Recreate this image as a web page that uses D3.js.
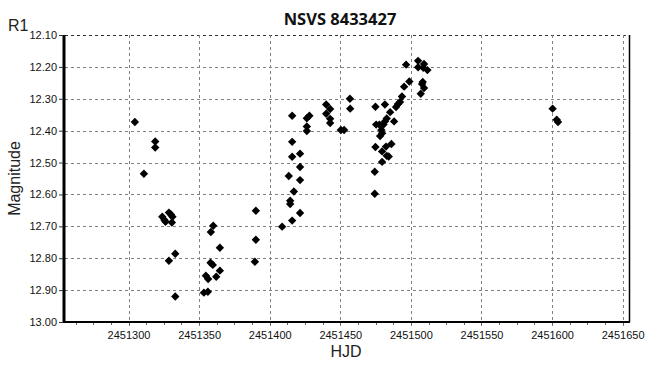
<!DOCTYPE html>
<html>
<head>
<meta charset="utf-8">
<script src="https://cdn.jsdelivr.net/npm/d3@7"></script>
<style>
  body { margin: 0; background: #fff; }
  svg { display: block; }
  .tick-lbl { font-family: "Liberation Sans", Arial, sans-serif; font-size: 11px; fill: #111; }
</style>
</head>
<body>
<div id="chart"></div>
<script>
// HJD values of the observations
const hjd = [
  2451304.5, 2451318.9, 2451318.9, 2451310.9, 2451323.9, 2451325.5, 2451326.2, 2451328.6,
  2451330.0, 2451331.1, 2451330.7, 2451333.1, 2451328.6, 2451333.1, 2451390.2, 2451390.2,
  2451389.5, 2451360.0, 2451358.3, 2451364.7, 2451358.1, 2451359.7, 2451364.7, 2451354.8,
  2451356.4, 2451362.1, 2451353.4, 2451356.2,
  2451408.8, 2451415.9, 2451421.5, 2451414.5, 2451414.5, 2451417.1, 2451413.5, 2451421.5,
  2451421.5, 2451415.9, 2451421.5, 2451415.9, 2451415.9, 2451426.3, 2451428.1, 2451426.3,
  2451426.3, 2451440.0, 2451442.8, 2451440.0, 2451442.8, 2451442.8, 2451450.4, 2451452.7,
  2451457.0, 2451456.8,
  2451474.4, 2451474.4, 2451479.6, 2451474.9, 2451479.6, 2451482.9, 2451484.3, 2451482.4,
  2451486.2, 2451478.2, 2451479.6, 2451479.1, 2451475.4, 2451477.7, 2451480.6, 2451481.6,
  2451482.9, 2451488.1, 2451485.3, 2451474.9, 2451481.6, 2451489.5, 2451490.9, 2451492.3,
  2451493.7, 2451495.2, 2451498.9, 2451496.6, 2451505.1, 2451505.1, 2451509.3, 2451508.8,
  2451511.7, 2451507.9, 2451509.3, 2451507.0, 2451508.4,
  2451600.4, 2451603.3, 2451604.2
];

// R1 magnitudes of the same observations
const mag = [
  12.373, 12.434, 12.453, 12.535, 12.670, 12.680, 12.686, 12.657,
  12.663, 12.670, 12.688, 12.786, 12.808, 12.920, 12.651, 12.742,
  12.811, 12.698, 12.718, 12.767, 12.814, 12.821, 12.839, 12.855,
  12.865, 12.858, 12.908, 12.905,
  12.701, 12.682, 12.658, 12.620, 12.630, 12.591, 12.542, 12.555,
  12.514, 12.482, 12.472, 12.435, 12.353, 12.361, 12.353, 12.387,
  12.401, 12.318, 12.332, 12.347, 12.363, 12.376, 12.398, 12.398,
  12.331, 12.300,
  12.598, 12.529, 12.498, 12.451, 12.465, 12.479, 12.481, 12.450,
  12.442, 12.417, 12.408, 12.398, 12.381, 12.381, 12.381, 12.371,
  12.362, 12.371, 12.342, 12.325, 12.318, 12.326, 12.316, 12.310,
  12.293, 12.262, 12.246, 12.193, 12.181, 12.201, 12.191, 12.203,
  12.210, 12.254, 12.266, 12.284, 12.247,
  12.331, 12.366, 12.373
];

const xTicks = [2451300, 2451350, 2451400, 2451450, 2451500, 2451550, 2451600, 2451650];
const yTicks = [12.1, 12.2, 12.3, 12.4, 12.5, 12.6, 12.7, 12.8, 12.9, 13.0];

const data = hjd.map((d, i) => ({ x: d, y: mag[i] }));

const width = 659, height = 378;
const plotL = 65, plotR = 629, plotT = 35, plotB = 322;

const svg = d3.select("#chart").append("svg")
  .attr("width", width).attr("height", height);

const x = d3.scaleLinear().domain([2451255, 2451654.5]).range([plotL, plotR]);
const y = d3.scaleLinear().domain([12.1, 13.0]).range([plotT, plotB]);

// grille pointillée
svg.append("g").selectAll("line")
  .data(yTicks.filter(d => d < 13.0))
  .join("line")
  .attr("x1", plotL).attr("x2", plotR)
  .attr("y1", d => Math.round(y(d)) + 0.5).attr("y2", d => Math.round(y(d)) + 0.5)
  .attr("stroke", d => d === 12.1 ? "#333" : "#808080")
  .attr("stroke-dasharray", "3,3");

svg.append("g").selectAll("line")
  .data(xTicks)
  .join("line")
  .attr("x1", d => Math.round(x(d)) + 0.5).attr("x2", d => Math.round(x(d)) + 0.5)
  .attr("y1", plotT).attr("y2", plotB + 4)
  .attr("stroke", "#808080")
  .attr("stroke-dasharray", "3,3");

// petites graduations sous l'axe X
const minor = d3.range(2451262.5, 2451654, 12.5);
svg.append("g").selectAll("line")
  .data(minor)
  .join("line")
  .attr("x1", d => Math.round(x(d)) + 0.5).attr("x2", d => Math.round(x(d)) + 0.5)
  .attr("y1", plotB).attr("y2", plotB + 3)
  .attr("stroke", "#666");

// cadre
svg.append("line").attr("x1", plotR + 0.5).attr("x2", plotR + 0.5)
  .attr("y1", plotT).attr("y2", plotB).attr("stroke", "#000").attr("stroke-width", 1.5);
svg.append("line").attr("x1", plotL).attr("x2", plotR + 1)
  .attr("y1", plotB).attr("y2", plotB).attr("stroke", "#000").attr("stroke-width", 2);
svg.append("line").attr("x1", plotL - 1).attr("x2", plotL - 1)
  .attr("y1", plotT).attr("y2", plotB + 1).attr("stroke", "#000").attr("stroke-width", 3);

// axes (labels only)
const fmtY = d3.format(".2f");
svg.append("g")
  .attr("transform", `translate(${plotL - 2},0)`)
  .call(d3.axisLeft(y).tickValues(yTicks).tickFormat(fmtY).tickSize(4).tickPadding(2))
  .call(g => g.select(".domain").remove())
  .call(g => g.selectAll("line").attr("stroke", "#333"))
  .call(g => g.selectAll("text").attr("class", "tick-lbl"));

svg.append("g")
  .attr("transform", `translate(0,${plotB})`)
  .call(d3.axisBottom(x).tickValues(xTicks).tickFormat(d3.format("d")).tickSize(0).tickPadding(9))
  .call(g => g.select(".domain").remove())
  .call(g => g.selectAll("text").attr("class", "tick-lbl"));

// points en losange
const diamond = "M0,-4.2L4.2,0L0,4.2L-4.2,0Z";
svg.append("g").selectAll("path")
  .data(data)
  .join("path")
  .attr("d", diamond)
  .attr("transform", d => `translate(${x(d.x)},${y(d.y)})`)
  .attr("fill", "#000");

// titres
svg.append("text")
  .attr("x", 340).attr("y", 25)
  .attr("text-anchor", "middle")
  .style("font-family", "'Open Sans', 'DejaVu Sans', sans-serif")
  .style("font-weight", "bold").style("font-size", "16.5px")
  .attr("fill", "#111")
  .text("NSVS 8433427");

svg.append("text")
  .attr("x", 8).attr("y", 31)
  .style("font-family", "'Liberation Sans', Arial, sans-serif")
  .style("font-size", "16px").attr("fill", "#222")
  .text("R1");

svg.append("text")
  .attr("transform", `translate(20,${(plotT + plotB) / 2}) rotate(-90)`)
  .attr("text-anchor", "middle")
  .style("font-family", "'Liberation Sans', Arial, sans-serif")
  .style("font-size", "16px").attr("fill", "#222")
  .text("Magnitude");

svg.append("text")
  .attr("x", 346).attr("y", 357)
  .attr("text-anchor", "middle")
  .style("font-family", "'Liberation Sans', Arial, sans-serif")
  .style("font-size", "16px").attr("fill", "#222")
  .text("HJD");
</script>
</body>
</html>
